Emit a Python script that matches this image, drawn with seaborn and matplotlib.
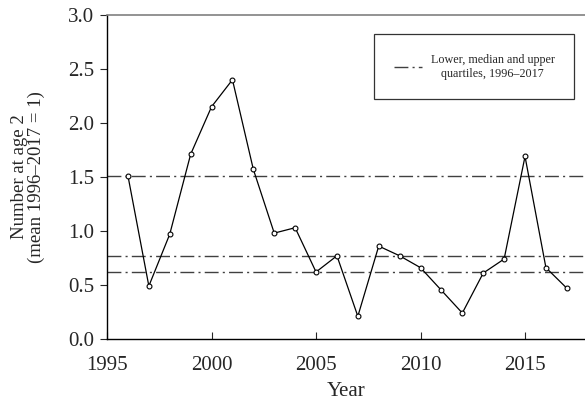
import matplotlib
matplotlib.use('Agg')
import matplotlib.pyplot as plt
import seaborn as sns
import pandas as pd

# values
years = list(range(1996, 2018))
number_age2 = [1.51, 0.49, 0.97, 1.71, 2.15, 2.40, 1.57, 0.98, 1.03, 0.62, 0.77,
               0.21, 0.86, 0.77, 0.66, 0.45, 0.24, 0.61, 0.74, 1.69, 0.66, 0.47]
quartiles = [0.62, 0.77, 1.51]
legend_label = "Lower, median and upper\nquartiles, 1996\u20132017"
x_ticks = [1995, 2000, 2005, 2010, 2015]
y_ticks = [0.0, 0.5, 1.0, 1.5, 2.0, 2.5, 3.0]

df = pd.DataFrame({"year": years, "value": number_age2})

sns.set_style("white")
plt.rcParams['font.family'] = ['Liberation Serif', 'DejaVu Serif']

fig = plt.figure(figsize=(5.85, 4.04), dpi=100)
ax = fig.add_axes([0.183, 0.161, 0.817, 0.802])

dashdot = (0, (10, 3, 1.5, 3))
for i, q in enumerate(quartiles):
    ax.axhline(q, color="#404040", lw=1.0, linestyle=dashdot,
               label=legend_label if i == 0 else None, zorder=1)

sns.lineplot(data=df, x="year", y="value", ax=ax, color="black", lw=0.9,
             marker="o", markersize=3.5, markerfacecolor="white",
             markeredgecolor="black", markeredgewidth=0.8, zorder=3)

ax.set_xlim(1995, 2017.87)
ax.set_ylim(0, 3.0)
ax.set_xticks(x_ticks)
ax.set_yticks(y_ticks)
ax.set_yticklabels([f"{v:.1f}" for v in y_ticks])
ax.tick_params(axis="x", direction="in", length=5, width=0.8, labelsize=15, pad=12)
ax.tick_params(axis="y", direction="out", length=5, width=0.8, labelsize=15, pad=4)
ax.tick_params(left=True, bottom=True)

for s in ["left", "bottom"]:
    ax.spines[s].set_color("black")
    ax.spines[s].set_linewidth(1.0)
ax.spines["top"].set_color("#808080")
ax.spines["top"].set_linewidth(1.2)
ax.spines["right"].set_visible(False)

ax.set_xlabel("Year", fontsize=15)
ax.xaxis.set_label_coords(0.5, -0.133)
ax.set_ylabel("Number at age 2\n(mean 1996\u20132017 = 1)", fontsize=13.5, linespacing=1.0)
ax.yaxis.set_label_coords(-0.13, 0.5)

leg = ax.legend(loc="upper right", bbox_to_anchor=(0.977, 0.94), fontsize=8.7,
                frameon=True, fancybox=False, handlelength=2.3, handletextpad=0.75,
                borderpad=1.6, borderaxespad=0)
leg.get_frame().set_edgecolor("black")
leg.get_frame().set_linewidth(0.9)
for t in leg.get_texts():
    t.set_multialignment("center")

fig.savefig("out.png", dpi=100)
